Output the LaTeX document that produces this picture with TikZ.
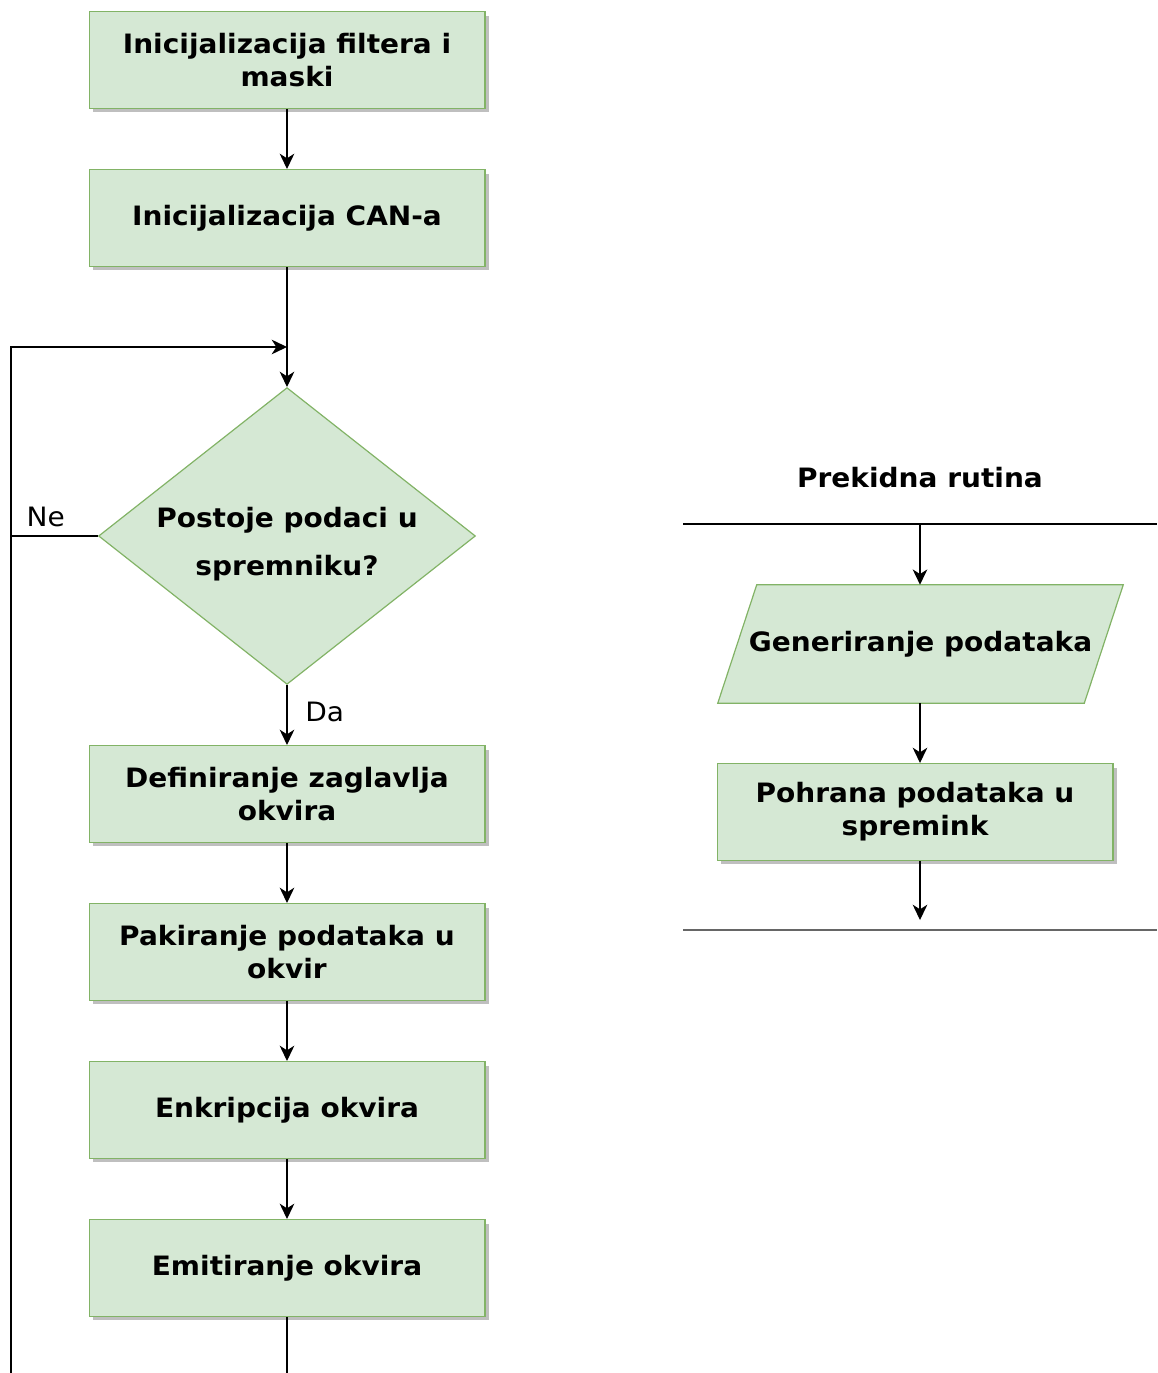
\documentclass[tikz,border=0pt]{standalone}
\usepackage{fontspec}
\setmainfont{DejaVu Sans}[FakeStretch=1.05]
\usetikzlibrary{positioning, shapes.geometric, shadows, arrows.meta, backgrounds}
\definecolor{boxfill}{HTML}{D5E8D4}
\definecolor{boxline}{HTML}{82B366}

\begin{document}
\begin{tikzpicture}[x=0.75pt, y=-0.75pt,
	node distance=45pt,
	korak/.style={rectangle, draw=boxline, fill=boxfill, line width=0.9pt,
		minimum width=296.85pt, minimum height=72.6pt, align=center,
		font=\bfseries\fontsize{20}{24.75}\selectfont,
		drop shadow={shadow xshift=3pt, shadow yshift=-3pt, fill=black!25, opacity=1}},
	odluka/.style={diamond, draw=boxline, fill=boxfill, line width=0.9pt,
		aspect=1.27, inner sep=0pt, minimum width=281pt, minimum height=221pt,
		align=center, font=\bfseries\fontsize{20}{36}\selectfont},
	ulaz/.style={rectangle, inner sep=0pt, minimum width=303.75pt, minimum height=88.5pt,
		align=center, font=\bfseries\fontsize{20}{24.75}\selectfont},
	veza/.style={draw, line width=0.9pt, -{Stealth[length=11.5pt, width=11pt, inset=3.5pt]}},
	oznaka/.style={font=\fontsize{20}{24}\selectfont}]
	\useasboundingbox (0,0) rectangle (1157,1373);

	% glavni program
	\node[korak] (init1) at (287,60) {Inicijalizacija filtera i\\maski};
	\node[korak, below = of init1] (init2) {Inicijalizacija CAN-a};
	\node[odluka, below = 90pt of init2] (provjera) {\\[-8pt]Postoje podaci u\\spremniku?};
	\node[korak, below = of provjera] (zaglavlje) {Definiranje zaglavlja\\okvira};
	\node[korak, below = of zaglavlje] (pakiranje) {Pakiranje podataka u\\okvir};
	\node[korak, below = of pakiranje] (enkripcija) {Enkripcija okvira};
	\node[korak, below = of enkripcija] (emitiranje) {Emitiranje okvira};

	\coordinate (spoj) at (287,347);
	\coordinate (lijevo) at (11,347);
	\coordinate (dno) at (11,1373);
	\coordinate (kraj) at (287,1373);

	\draw[veza] (init1) -- (init2);
	\draw[veza] (init2) -- (provjera);
	\draw[veza] (provjera) -- node[oznaka, right=10pt, pos=0.45] (da) {Da} (zaglavlje);
	\draw[veza] (zaglavlje) -- (pakiranje);
	\draw[veza] (pakiranje) -- (enkripcija);
	\draw[veza] (enkripcija) -- (emitiranje);
	\draw[line width=0.9pt] (emitiranje) -- (kraj);
	\draw[line width=0.9pt] (provjera.west) -- (provjera.west -| dno);
	\draw[veza] (dno) -- (lijevo) -- (spoj);
	\node[oznaka, anchor=south west] (ne) at (22,532) {Ne};

	% prekidna rutina
	\node[font=\bfseries\fontsize{20}{24}\selectfont] (naslov) at (920,478) {Prekidna rutina};
	\coordinate (gore1) at (683,524);
	\coordinate (gore2) at (1157,524);
	\coordinate (dolje1) at (683,930);
	\coordinate (dolje2) at (1157,930);
	\coordinate (ulazgore) at (920,524);
	\coordinate (izlazdolje) at (920,920);
	\draw[line width=0.9pt] (gore1) -- (gore2);
	\draw[line width=1.2pt, black!60] (dolje1) -- (dolje2);

	\node[ulaz] (generiranje) at (920.5,644) {Generiranje podataka};
	\begin{scope}[on background layer]
		\draw[draw=boxline, fill=boxfill, line width=0.9pt]
		([xshift=29.25pt]generiranje.north west) -- (generiranje.north east)
		-- ([xshift=-29.25pt]generiranje.south east) -- (generiranje.south west) -- cycle;
	\end{scope}
	\node[korak] (pohrana) at (915,812) {Pohrana podataka u\\spremink};

	\draw[veza] (ulazgore) -- (generiranje.north -| ulazgore);
	\draw[veza] (generiranje.south -| ulazgore) -- (pohrana.north -| ulazgore);
	\draw[veza] (pohrana.south -| ulazgore) -- (izlazdolje);
\end{tikzpicture}
\end{document}
